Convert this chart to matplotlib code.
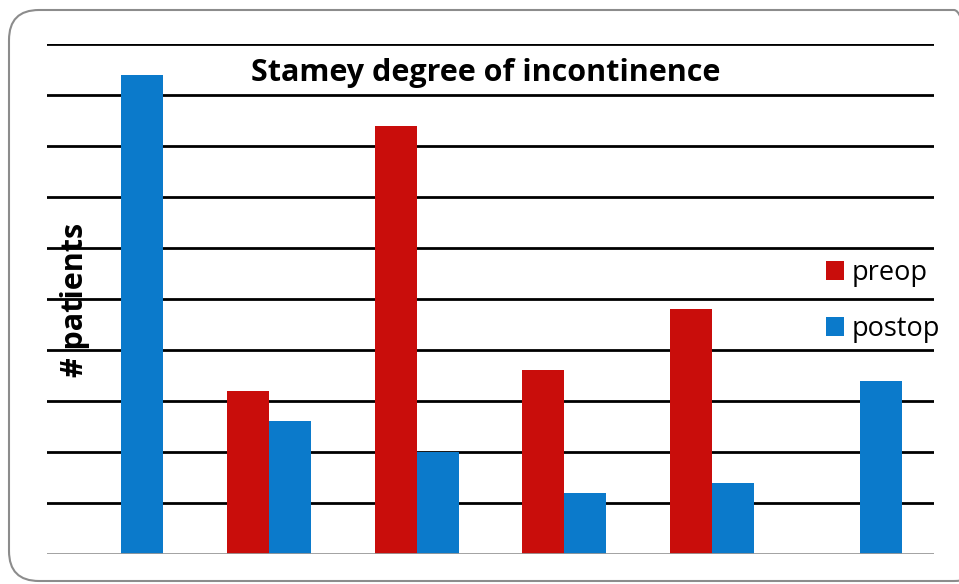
import matplotlib
matplotlib.use("Agg")
import matplotlib.pyplot as plt
import numpy as np
from matplotlib.patches import FancyBboxPatch

# Stamey grade categories (no axis labels shown in the original)
categories = ["0", "1", "2", "3", "4", "5"]
preop = [0, 16, 42, 18, 24, 0]
postop = [47, 13, 10, 6, 7, 17]

RED = "#C90D0B"
BLUE = "#0B7ACB"

plt.rcParams["font.family"] = ["Open Sans", "DejaVu Sans"]

fig = plt.figure(figsize=(9.59, 5.84), dpi=100)
ax = fig.add_axes([47 / 959, 30 / 584, 887 / 959, 510 / 584])

x = np.arange(len(categories))
w = 0.284
b1 = ax.bar(x - w / 2, preop, w, color=RED, label="preop", zorder=3)
b2 = ax.bar(x + w / 2, postop, w, color=BLUE, label="postop", zorder=3)

ax.set_xlim(-0.5, len(categories) - 0.5)
ax.set_ylim(0, 50)
for yv in range(5, 51, 5):
    ax.axhline(yv, color="black", lw=2, zorder=1)
ax.axhline(0, color="#999999", lw=2, zorder=4)

for s in ax.spines.values():
    s.set_visible(False)
ax.set_xticks([])
ax.set_yticks([])

ax.text(0.495, 1 - 29 / 510, "Stamey degree of incontinence", transform=ax.transAxes,
        ha="center", va="center", fontsize=22, fontweight="bold", zorder=5)

fig.text(75 / 959, 1 - 300 / 584, "# patients", rotation=90, ha="center",
         va="center", fontsize=22, fontweight="bold", zorder=6)

leg = ax.legend(handles=[b1, b2], loc="center left",
                bbox_to_anchor=(812 / 959, 1 - 301 / 584), bbox_transform=fig.transFigure,
                frameon=False, fontsize=19.5, handlelength=0.68, handleheight=0.68,
                handletextpad=0.3, labelspacing=1.02, borderpad=0)

border = FancyBboxPatch((0.09, 0.03), 9.75, 5.71,
                        boxstyle="round,pad=0,rounding_size=0.3",
                        transform=fig.dpi_scale_trans, fill=False,
                        edgecolor="#8c8c8c", lw=1.5, zorder=10)
fig.patches.append(border)

fig.savefig("out.png", dpi=100)
